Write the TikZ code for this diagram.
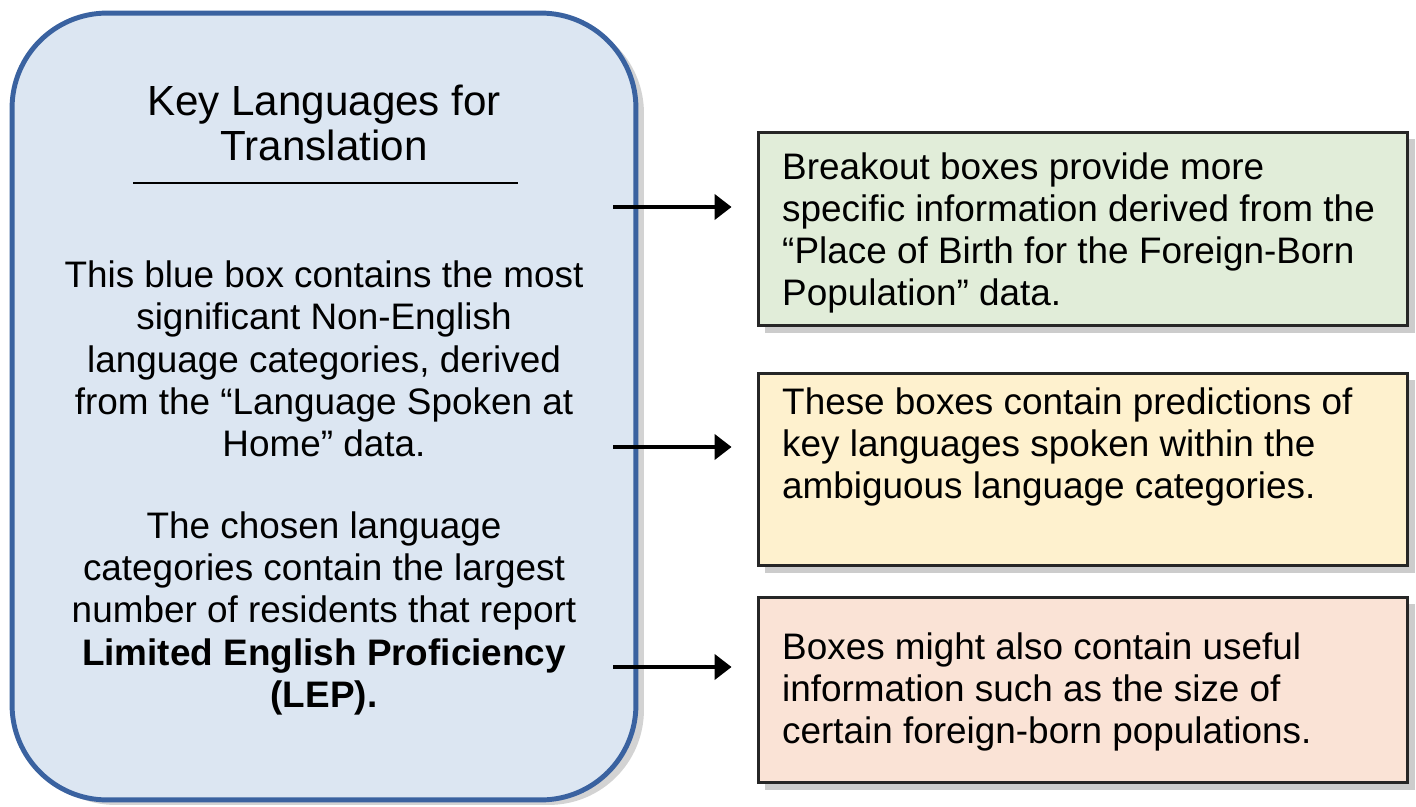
\documentclass[tikz,border=0pt]{standalone}
\usepackage{xcolor}
\usepackage{fontspec}
\setmainfont{Liberation Sans}
\usepackage{tikz}
\usetikzlibrary{arrows.meta,shadows,positioning,calc}
\definecolor{keyblue}{HTML}{DCE6F2}
\definecolor{keyedge}{HTML}{3A62A0}
\definecolor{birthgreen}{HTML}{E1EDD9}
\definecolor{predyellow}{HTML}{FEF1CE}
\definecolor{sizered}{HTML}{FAE3D6}
\definecolor{boxedge}{HTML}{262626}

\begin{document}
\begin{tikzpicture}[x=0.02cm, y=-0.02cm, >={Triangle[length=0.34cm,width=0.5cm]},
    keybox/.style={draw=keyedge, fill=keyblue, line width=2.8pt, rounded corners=1.9cm,
      minimum width=12.48cm, minimum height=15.74cm,
      drop shadow={shadow xshift=0.16cm, shadow yshift=-0.1cm, opacity=0.35}},
    infobox/.style={draw=boxedge, line width=1.7pt, minimum width=13cm,
      drop shadow={shadow xshift=0.14cm, shadow yshift=-0.14cm, opacity=0.4}},
    infotext/.style={anchor=west, align=left, font=\fontsize{21}{24}\selectfont},
    pointer/.style={->, line width=2.3pt, shorten >=0.5cm}]
  \useasboundingbox (0,0) rectangle (1416,807);
  % key languages box
  \node[keybox] (key) at (324,406.5) {};
  \node[align=center, font=\fontsize{24}{25.5}\selectfont] (title) at (324,123)
    {Key Languages for\\Translation};
  \draw[line width=1.2pt] (133,183) -- (518,183);
  \node[align=center, font=\fontsize{21}{24}\selectfont] (keytext) at (324,488)
    {This blue box contains the most\\significant Non-English\\language categories, derived\\
     from the “Language Spoken at\\Home” data.\\[0.8cm]
     The chosen language\\categories contain the largest\\number of residents that report\\
     \textbf{Limited English Proficiency}\\\textbf{(LEP).}};
  % breakout boxes
  \node[infobox, fill=birthgreen, minimum height=3.88cm] (birth) at (1083,229) {};
  \node[infobox, fill=predyellow, minimum height=3.86cm] (pred) at (1083,469.5) {};
  \node[infobox, fill=sizered, minimum height=3.72cm] (size) at (1083,690) {};
  \node[infotext] (birthtext) at (776,233)
    {Breakout boxes provide more\\specific information derived from the\\
     “Place of Birth for the Foreign-Born\\Population” data.};
  \node[infotext] (predtext) at (776,447)
    {These boxes contain predictions of\\key languages spoken within the\\
     ambiguous language categories.};
  \node[infotext] (sizetext) at (776,692)
    {Boxes might also contain useful\\information such as the size of\\
     certain foreign-born populations.};
  % arrows
  \coordinate (p1) at (613,207);
  \coordinate (p2) at (613,447);
  \coordinate (p3) at (613,667);
  \draw[pointer] (p1) -- (p1 -| birth.west);
  \draw[pointer] (p2) -- (p2 -| pred.west);
  \draw[pointer] (p3) -- (p3 -| size.west);
\end{tikzpicture}
\end{document}
